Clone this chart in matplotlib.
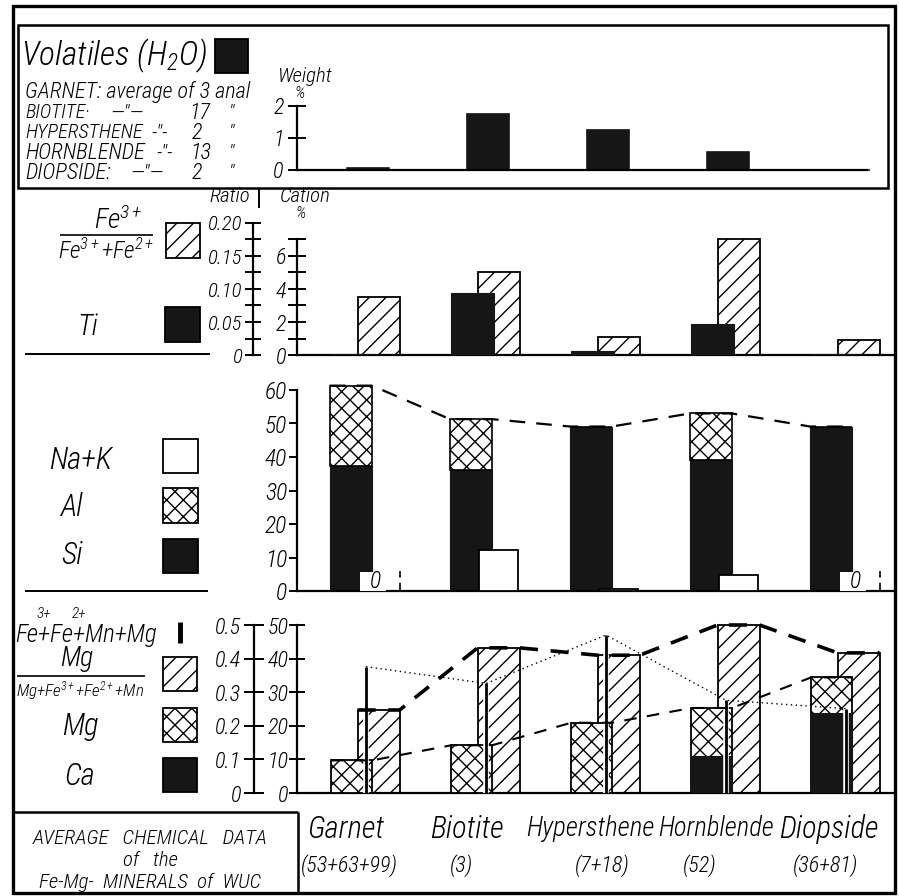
import matplotlib
matplotlib.use('Agg')
import matplotlib.pyplot as plt
from matplotlib import font_manager as fm
from matplotlib.patches import Rectangle
import numpy as np

W, H = 899, 896


def pick_font():
    fl = fm.fontManager.ttflist
    names = {f.name for f in fl}
    for c in ['Liberation Sans Narrow', 'Roboto Condensed', 'Open Sans Condensed']:
        if c in names:
            return c, 'normal'
    if any(f.name == 'DejaVu Sans' and str(f.stretch) in ('condensed', 'semi-condensed')
           for f in fl):
        return 'DejaVu Sans', 'condensed'
    for c in ['Liberation Sans', 'Roboto', 'Lato']:
        if c in names:
            return c, 'normal'
    return 'DejaVu Sans', 'normal'


FONTNAME, STRETCH = pick_font()
plt.rcParams['font.family'] = [FONTNAME, 'DejaVu Sans']
plt.rcParams['font.style'] = 'italic'
plt.rcParams['font.weight'] = 'light'
plt.rcParams['font.stretch'] = STRETCH
plt.rcParams['mathtext.fontset'] = 'custom'
_pat = FONTNAME + ':italic:light' + (':condensed' if STRETCH == 'condensed' else '')
plt.rcParams['mathtext.rm'] = _pat
plt.rcParams['mathtext.it'] = _pat
plt.rcParams['hatch.linewidth'] = 1.0

# ---------------- data ----------------
minerals = ['Garnet', 'Biotite', 'Hypersthene', 'Hornblende', 'Diopside']
n_analyses = ['(53+63+99)', '(3)', '(7+18)', '(52)', '(36+81)']

# panel 1 : volatiles (H2O), weight %
volatiles_h2o = [0.08, 1.78, 1.27, 0.59, 0.04]
vol_note_names = ['BIOTITE·', 'HYPERSTHENE', 'HORNBLENDE', 'DIOPSIDE:']
vol_note_dittos = ['—"—', '-"-', '-"-', '—"—']
vol_note_counts = ['17', '2', '13', '2']

# panel 2 : Fe3+/(Fe3+ + Fe2+) ratio and Ti cation %
fe3_ratio = [0.088, 0.126, 0.027, 0.176, 0.022]
ti_cation = [0.05, 3.74, 0.25, 1.86, 0.05]

# panel 3 : cation %
si_cation = [37.4, 36.0, 49.1, 39.1, 49.1]
al_cation = [23.9, 15.3, 0.0, 13.9, 0.0]
nak_cation = [0.0, 12.1, 0.5, 4.7, 0.0]

# panel 4
mg_ratio = [0.247, 0.432, 0.410, 0.500, 0.417]
mg_cation = [9.7, 14.2, 20.9, 25.3, 34.4]
ca_cation = [0.0, 0.0, 0.0, 10.9, 23.7]
femgmn_cation = [37.6, 32.6, 47.0, 27.6, 25.1]

# ---------------- layout ----------------
RATIO_PER_CATION2 = 0.025   # panel 2: 0.05 ratio == 2 cation %
fig = plt.figure(figsize=(W / 100, H / 100), dpi=100)
fig.patch.set_facecolor('white')
renderer = fig.canvas.get_renderer()


def ax_px(x0, ytop, x1, ybot):
    return fig.add_axes([x0 / W, 1 - ybot / H, (x1 - x0) / W, (ybot - ytop) / H])


XL = (-0.275, 4.692)
slots = np.arange(len(minerals))
LW = 1.6
BLACK = '#161616'


def style_axis(ax):
    ax.set_xlim(*XL)
    ax.patch.set_alpha(0)
    for s in ['top', 'right']:
        ax.spines[s].set_visible(False)
    ax.spines['left'].set_linewidth(LW)
    ax.spines['bottom'].set_linewidth(LW)
    ax.set_xticks([])


def ratio_axis(x, ytop, ybot, ylim, bound, ticks, labels, minor, length, lsize):
    ar = ax_px(x, ytop, x + 0.01, ybot)
    ar.patch.set_alpha(0)
    for s in ['top', 'right', 'bottom']:
        ar.spines[s].set_visible(False)
    ar.spines['left'].set_linewidth(LW)
    ar.set_ylim(*ylim)
    ar.spines['left'].set_bounds(0, bound)
    ar.set_xticks([])
    ar.set_yticks(ticks)
    ar.set_yticklabels(labels)
    if minor is not None:
        ar.set_yticks(minor, minor=True)
    ar.tick_params(axis='y', which='both', direction='inout', length=length,
                   width=1.4, pad=2, labelsize=lsize)
    return ar


# ---- panel 1 ----
ax1 = ax_px(297, 106, 893, 170)
style_axis(ax1)
ax1.set_ylim(0, 2)
ax1.bar(slots + 0.13, volatiles_h2o, width=0.36, align='edge', color=BLACK,
        edgecolor=BLACK, lw=0.5, clip_on=False)
ax1.spines['bottom'].set_bounds(XL[0], 4.475)
ax1.set_yticks([0, 1, 2])
ax1.tick_params(axis='y', direction='inout', length=13, width=1.4, pad=3, labelsize=16)

# ---- panel 2 ----
p2_top = 355 - 8 * 16.5
ax2 = ax_px(297, p2_top, 893, 355)
style_axis(ax2)
ax2.set_ylim(0, 8)
ax2.spines['left'].set_bounds(0, 7)
ax2.set_yticks([0, 2, 4, 6])
ax2.set_yticks([1, 3, 5, 7], minor=True)
ax2.tick_params(axis='y', which='both', direction='inout', length=13, width=1.4,
                pad=1, labelsize=16)
ax2.bar(slots + 0.23, np.array(fe3_ratio) / RATIO_PER_CATION2, width=0.35, align='edge',
        facecolor='white', edgecolor='black', hatch='//', lw=1.3, zorder=2)
ax2.bar(slots + 0.01, ti_cation, width=0.36, align='edge', color=BLACK,
        edgecolor=BLACK, lw=0.8, zorder=3)
ratio_axis(253, p2_top, 355, (0, 8 * RATIO_PER_CATION2), 0.2,
           [0, 0.05, 0.10, 0.15, 0.20], ['0', '0.05', '0.10', '0.15', '0.20'],
           [0.025, 0.075, 0.125, 0.175], 11, 15)

# ---- panel 3 ----
ax3 = ax_px(297, 591 - 63 * 3.35, 893, 591)
style_axis(ax3)
ax3.set_ylim(0, 63)
ax3.spines['left'].set_bounds(0, 60)
ax3.set_yticks(np.arange(0, 61, 10))
ax3.tick_params(axis='y', direction='out', length=6, width=1.4, pad=1, labelsize=17)
ax3.bar(slots, si_cation, width=0.35, align='edge', color=BLACK,
        edgecolor=BLACK, lw=0.8, zorder=2)
ax3.bar(slots, al_cation, bottom=si_cation, width=0.35, align='edge',
        facecolor='white', edgecolor='black', hatch='xx', lw=1.2, zorder=2)
for i, v in enumerate(nak_cation):
    if v > 0:
        ax3.bar(i + 0.24, v, width=0.33, align='edge', facecolor='white',
                edgecolor='black', lw=1.3, zorder=3)
    else:
        ax3.add_patch(Rectangle((i + 0.25, 0), 0.22, 5.8, facecolor='white',
                                edgecolor='none', zorder=3))
        ax3.text(i + 0.38, 2.8, '0', ha='center', va='center', fontsize=17, zorder=4)
        ax3.plot([i + 0.58, i + 0.58], [0, 6], color='black', lw=1.2,
                 dashes=(5, 3), zorder=4)
tot = np.array(si_cation) + np.array(al_cation)
xs = np.ravel(np.column_stack([slots, slots + 0.35]))
ax3.plot(xs, np.repeat(tot, 2), color='black', lw=1.6, dashes=(7, 5), zorder=5)

# ---- panel 4 ----
ax4 = ax_px(297, 793 - 52 * 3.36, 893, 793)
style_axis(ax4)
ax4.set_ylim(0, 52)
ax4.spines['left'].set_bounds(0, 50)
ax4.set_yticks(np.arange(0, 51, 10))
ax4.tick_params(axis='y', direction='inout', length=12, width=1.4, pad=0, labelsize=16)
mgr = np.array(mg_ratio) * 100
ax4.bar(slots + 0.23, mgr, width=0.35, align='edge', facecolor='white',
        edgecolor='black', hatch='//', lw=1.3, zorder=2)
ax4.bar(slots + 0.01, mg_cation, width=0.34, align='edge', facecolor='white',
        edgecolor='black', hatch='xx', lw=1.3, zorder=3)
ax4.bar(slots + 0.01, ca_cation, width=0.34, align='edge', color=BLACK,
        edgecolor=BLACK, lw=0.8, zorder=4)
ax4.vlines(slots + 0.30, 0, femgmn_cation, color='white', lw=4, zorder=5)
ax4.vlines(slots + 0.30, 0, femgmn_cation, color='black', lw=2, zorder=6)
ax4.plot(slots + 0.30, femgmn_cation, color='black', lw=1.0, ls=(0, (1, 2.5)), zorder=6)
xh = np.ravel(np.column_stack([slots + 0.23, slots + 0.58]))
ax4.plot(xh, np.repeat(mgr, 2), color='black', lw=2.6, dashes=(5, 3.5), zorder=7)
xm = np.ravel(np.column_stack([slots + 0.01, slots + 0.35]))
ax4.plot(xm, np.repeat(mg_cation, 2), color='black', lw=1.5, dashes=(6, 5), zorder=7)
ratio_axis(254, 793 - 52 * 3.36, 793, (0, 0.52), 0.5,
           [0, 0.1, 0.2, 0.3, 0.4, 0.5], ['0', '0.1', '0.2', '0.3', '0.4', '0.5'],
           None, 14, 16)

# ---------------- overlay: frames, legends, texts ----------------
ov = fig.add_axes([0, 0, 1, 1])
ov.set_xlim(0, W)
ov.set_ylim(H, 0)
ov.axis('off')


def line(x0, y0, x1, y1, lw=1.4):
    ov.plot([x0, x1], [y0, y1], color='black', lw=lw, solid_capstyle='butt')


def box(x0, y0, x1, y1, fc='white', hatch=None, lw=1.3):
    ov.add_patch(Rectangle((x0, y0), x1 - x0, y1 - y0, facecolor=fc,
                           edgecolor='black', hatch=hatch, lw=lw))


def txt(x, y, s, size, ha='center', maxw=None, **kw):
    t = ov.text(x, y, s, fontsize=size, ha=ha, va='center', **kw)
    if maxw is not None:
        w = t.get_window_extent(renderer).width
        if w > maxw:
            t.set_fontsize(size * maxw / w)
    return t


def width_of(s, size):
    t = ov.text(0, 0, s, fontsize=size)
    w = t.get_window_extent(renderer).width
    t.remove()
    return w


# frames
ov.add_patch(Rectangle((13, 6), 882, 887, fill=False, edgecolor='black', lw=2.4))
ov.add_patch(Rectangle((18, 25), 870, 163, fill=False, edgecolor='black', lw=1.8))
line(25, 354, 210, 354)
line(25, 591, 208, 591)
line(13, 812, 298, 812, lw=1.8)
line(298, 812, 298, 893, lw=1.8)
line(259, 188, 259, 208)

# panel 1 legend
txt(21, 56, r'Volatiles (H$_2$O)', 26, ha='left', maxw=186)
box(215, 39, 248, 73, fc=BLACK)
txt(25, 92, 'GARNET: average of 3 anal', 16, ha='left', maxw=232)
name_w = [65, 118, 123, 98]
ditto_x = [127, 160, 165, 147]
count_x = [200, 197, 201, 197]
for k, (nm, dt, ct) in enumerate(zip(vol_note_names, vol_note_dittos, vol_note_counts)):
    yy = 113 + 20 * k
    txt(25, yy, nm, 16, ha='left', maxw=name_w[k])
    txt(ditto_x[k], yy, dt, 15, maxw=42)
    txt(count_x[k], yy, ct, 16)
    txt(232, yy, '"', 14)
txt(305, 77, 'Weight', 15, maxw=56)
txt(300, 94, '%', 12)

# panel 2 legend
txt(118, 221, r'Fe$^{3+}$', 20, maxw=64)
line(60, 235, 153, 235, lw=1.2)
txt(106, 251, r'Fe$^{3+}$+Fe$^{2+}$', 18, maxw=96)
box(166, 223, 200, 258, hatch='//')
txt(88, 327, 'Ti', 21)
box(165, 307, 200, 342, fc=BLACK)
txt(230, 196, 'Ratio', 15, maxw=50)
txt(305, 197, 'Cation', 15, maxw=60)
txt(301, 213, '%', 12)

# panel 3 legend
txt(81, 460, 'Na+K', 22, maxw=74)
box(163, 439, 198, 473)
txt(72, 507, 'Al', 22)
box(163, 488, 198, 523, hatch='xx')
txt(72, 555, 'Si', 22)
box(163, 539, 198, 573, fc=BLACK)

# panel 4 legend: Fe3+ + Fe2+ + Mn + Mg with raised charges
base = 'Fe+Fe+Mn+Mg'
bt = txt(15, 635, base, 18, ha='left', maxw=152)
fs_used = bt.get_fontsize()
wfe = width_of('Fe', fs_used)
wplus = width_of('Fe+', fs_used) - wfe
wfefe = width_of('Fe+Fe', fs_used)
txt(15 + wfe + wplus * 0.5, 614, '3+', 11)
txt(15 + wfefe + wplus * 0.5, 614, '2+', 11)
line(180, 622, 180, 643, lw=3.5)
txt(77, 659, 'Mg', 20)
line(17, 676, 145, 676, lw=1.2)
txt(80, 691, r'Mg+Fe$^{3+}$+Fe$^{2+}$+Mn', 14, maxw=128)
box(163, 657, 197, 691, hatch='//')
txt(80, 726, 'Mg', 22)
box(163, 708, 197, 742, hatch='xx')
txt(80, 776, 'Ca', 22)
box(163, 758, 197, 792, fc=BLACK)

# bottom
txt(150, 838, 'AVERAGE   CHEMICAL   DATA', 15, maxw=252)
txt(150, 860, 'of   the', 15)
txt(150, 882, 'Fe-Mg-  MINERALS  of  WUC', 15, maxw=258)
name_x = [346, 467, 590, 716, 829]
name_w = [82, 78, 128, 115, 106]
count_lbl_x = [349, 461, 602, 700, 825]
count_w = [105, 40, 60, 43, 81]
for k in range(len(minerals)):
    txt(name_x[k], 829, minerals[k], 22, maxw=name_w[k])
    txt(count_lbl_x[k], 866, n_analyses[k], 16, maxw=count_w[k])

fig.savefig('out.png', dpi=100, facecolor='white')
